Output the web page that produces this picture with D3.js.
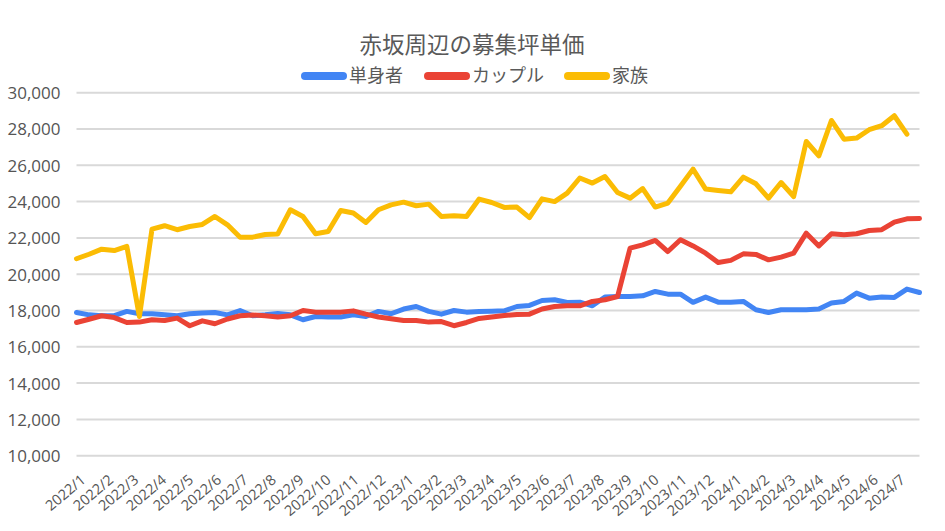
<!DOCTYPE html>
<html><head><meta charset="utf-8">
<script src="https://cdn.jsdelivr.net/npm/d3@7"></script>
<style>
html,body{margin:0;padding:0;background:#fff;}
svg{display:block;font-family:"Noto Sans CJK JP","Noto Sans",sans-serif;}
</style></head>
<body><svg id="c" width="945" height="531"></svg>
<script>
// ---- data ----
const title = "赤坂周辺の募集坪単価";
const seriesNames = ["単身者", "カップル", "家族"];
const startDate = "2022-01-01";   // first observation
const stepDays = 14;              // observations every two weeks
const monthLabels = ["2022/1","2022/2","2022/3","2022/4","2022/5","2022/6","2022/7","2022/8","2022/9","2022/10","2022/11","2022/12",
  "2023/1","2023/2","2023/3","2023/4","2023/5","2023/6","2023/7","2023/8","2023/9","2023/10","2023/11","2023/12",
  "2024/1","2024/2","2024/3","2024/4","2024/5","2024/6","2024/7"];
const yTicks = [10000,12000,14000,16000,18000,20000,22000,24000,26000,28000,30000];

const single = [17890,17760,17710,17720,17950,17820,17820,17760,17710,17820,17860,17890,17760,18000,17710,17760,
  17830,17760,17490,17670,17640,17640,17760,17670,17950,17820,18080,18220,17950,17800,18000,17910,17950,17960,
  17980,18220,18280,18550,18590,18440,18460,18260,18740,18770,18770,18810,19050,18900,18900,18450,
  18740,18460,18460,18500,18040,17890,18040,18040,18040,18080,18410,18500,18960,18680,18740,18720,19180,18990];
const couple = [17340,17520,17710,17610,17340,17360,17490,17450,17580,17160,17430,17270,17530,17710,17750,17710,
  17640,17710,18000,17910,17910,17910,17980,17800,17640,17540,17450,17450,17360,17390,17160,17340,17560,17640,
  17720,17780,17800,18080,18220,18260,18260,18500,18590,18770,21440,21620,21860,21250,21900,21560,
  21160,20640,20760,21120,21090,20790,20940,21160,22260,21560,22230,22170,22230,22410,22450,22870,23050,23070];
const family = [20850,21100,21380,21300,21530,17670,22485,22670,22450,22630,22740,23180,22720,22040,22040,22190,
  22220,23550,23180,22230,22350,23510,23370,22850,23550,23820,23970,23770,23860,23180,23220,23180,24140,23950,
  23680,23700,23120,24150,24000,24470,25300,25020,25380,24500,24190,24720,23700,23920,24840,25790,
  24690,24610,24540,25350,24980,24190,25050,24280,27310,26520,28470,27440,27500,27960,28180,28730,27720];

const colors = ["#4285F4", "#EA4335", "#FBBC04"];
const seriesValues = [single, couple, family];

// ---- layout ----
const svg = d3.select("#c");
const mLeft = 76.5, mRight = 919.5, mTop = 92.7, mBottom = 455.7;
const parseDay = d3.timeParse("%Y-%m-%d");
const parseMonth = d3.timeParse("%Y/%m");
const t0 = parseDay(startDate);
const dateAt = i => d3.timeDay.offset(t0, i * stepDays);
const nMax = d3.max(seriesValues, s => s.length);

const x = d3.scaleTime().domain([t0, dateAt(nMax - 1)]).range([mLeft, mRight]);
const y = d3.scaleLinear().domain([10000, 30000]).range([mBottom, mTop]);

// gridlines
svg.append("g").selectAll("line").data(yTicks).join("line")
  .attr("x1", mLeft).attr("x2", mRight)
  .attr("y1", d => y(d)).attr("y2", d => y(d))
  .attr("stroke", "#d9d9d9").attr("stroke-width", 2);

// y axis labels
const yAxis = d3.axisLeft(y).tickValues(yTicks).tickFormat(d3.format(",")).tickSize(0).tickPadding(0);
const yg = svg.append("g").attr("transform", `translate(${mLeft - 16},0)`).call(yAxis);
yg.select(".domain").remove();
yg.selectAll("text").attr("fill", "#555").style("font-size", "17px")
  .style("font-family", "'Open Sans','Noto Sans',sans-serif").attr("dy", "0.35em");

// x axis labels
const xAxis = d3.axisBottom(x).tickValues(monthLabels.map(parseMonth))
  .tickFormat(d3.timeFormat("%Y/%-m")).tickSize(0).tickPadding(0);
const xg = svg.append("g").attr("transform", `translate(0,${mBottom + 18})`).call(xAxis);
xg.select(".domain").remove();
xg.selectAll("text")
  .attr("fill", "#555").style("font-size", "14.5px")
  .style("font-family", "'Open Sans','Noto Sans',sans-serif")
  .attr("text-anchor", "end")
  .attr("dy", "0.7em").attr("dx", "0")
  .attr("transform", "translate(3,0) rotate(-40)")
  .attr("y", 0);

// lines
const line = d3.line().x((d, i) => x(dateAt(i))).y(d => y(d)).curve(d3.curveLinear);
svg.append("g").selectAll("path").data(seriesValues).join("path")
  .attr("d", d => line(d))
  .attr("fill", "none")
  .attr("stroke", (d, i) => colors[i])
  .attr("stroke-width", 5)
  .attr("stroke-linejoin", "round")
  .attr("stroke-linecap", "round");

// title
svg.append("text").attr("x", 472).attr("y", 53).attr("text-anchor", "middle")
  .attr("fill", "#595959").style("font-size", "22.5px").text(title);

// legend
const legend = svg.append("g").attr("transform", "translate(0,76)");
const itemX = [301, 424, 564];
seriesNames.forEach((name, i) => {
  const g = legend.append("g").attr("transform", `translate(${itemX[i]},0)`);
  g.append("line").attr("x1", 4).attr("x2", 42).attr("y1", 0).attr("y2", 0)
    .attr("stroke", colors[i]).attr("stroke-width", 8).attr("stroke-linecap", "round");
  g.append("text").attr("x", 48).attr("y", 0).attr("dy", "0.35em")
    .attr("fill", "#595959").style("font-size", "18px").text(name);
});
</script></body></html>
